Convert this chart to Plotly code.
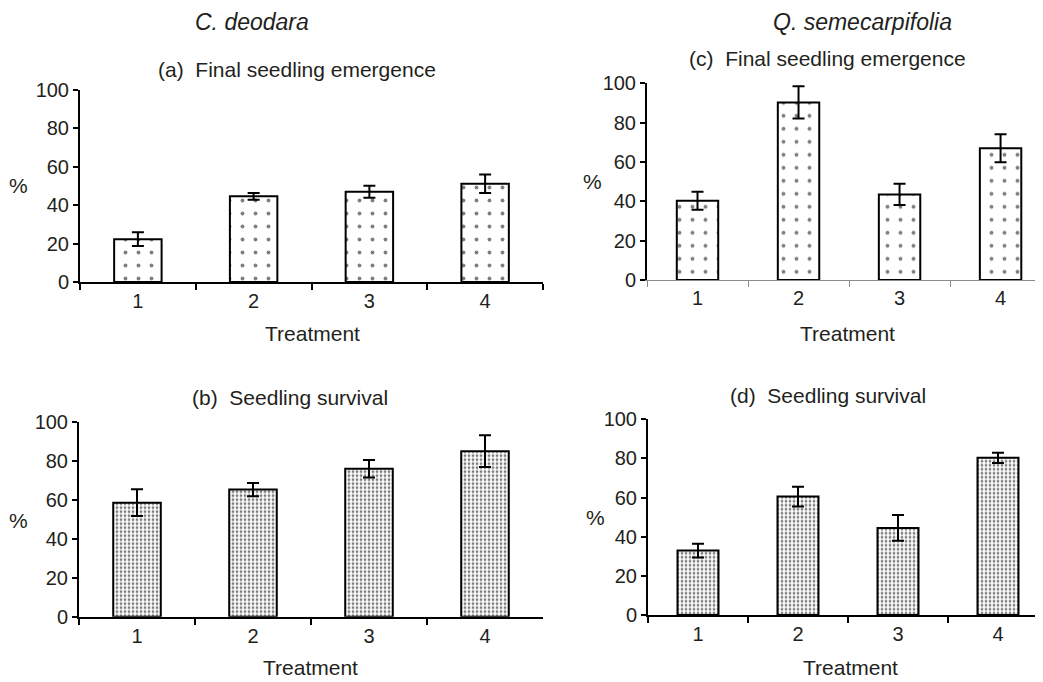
import plotly.graph_objects as go

treatments = ["1", "2", "3", "4"]

# C. deodara
cd_emergence = [22.3, 44.6, 47.0, 51.2]
cd_emergence_err = [3.6, 1.7, 3.1, 4.8]
cd_survival = [58.5, 65.2, 75.9, 84.9]
cd_survival_err = [6.9, 3.4, 4.5, 8.1]

# Q. semecarpifolia
qs_emergence = [40.3, 90.3, 43.5, 67.0]
qs_emergence_err = [4.6, 8.2, 5.4, 7.1]
qs_survival = [32.9, 60.5, 44.5, 80.3]
qs_survival_err = [3.5, 5.0, 6.6, 2.6]

y_ticks = [0, 20, 40, 60, 80, 100]

OFF = 8  # page body margin
W, H = 1043 - OFF, 682 - OFF
FONT = "Liberation Sans, Arial, sans-serif"
TXT = "#231f20"


def px_x(v):
    return (v - OFF) / W


def px_y(v):
    return 1 - (v - OFF) / H


sparse = dict(shape=".", size=13, solidity=0.07, fgcolor="black", bgcolor="white", fillmode="overlay")
dense = dict(shape=".", size=4, solidity=0.38, fgcolor="black", bgcolor="white", fillmode="overlay")

panels = [
    # values, errors, pattern, xdom(px), ytop, ybottom, xrange end, thin x axis
    (cd_emergence, cd_emergence_err, sparse, (80, 543), 90, 282, 3.5, False),
    (cd_survival, cd_survival_err, dense, (79, 543), 421.7, 616.7, 3.5, False),
    (qs_emergence, qs_emergence_err, sparse, (647, 1043), 83.3, 280, 3.42, True),
    (qs_survival, qs_survival_err, dense, (648, 1043), 419.3, 615, 3.45, False),
]

fig = go.Figure()
layout = {}
for i, (vals, errs, pat, (x0, x1), ytop, ybot, xend, thin) in enumerate(panels):
    n = "" if i == 0 else str(i + 1)
    fig.add_trace(go.Bar(
        x=treatments, y=vals,
        xaxis="x" + n, yaxis="y" + n,
        width=0.41,
        marker=dict(color="white", line=dict(color="black", width=2), pattern=pat),
        error_y=dict(type="data", array=errs, visible=True, color="black", thickness=2, width=6),
        showlegend=False,
    ))
    layout["xaxis" + n] = dict(
        domain=[px_x(x0), min(1.0, px_x(x1))], anchor="y" + n, type="category",
        range=[-0.5, xend], showline=True,
        linecolor="#8a8a8a" if thin else "black", linewidth=1 if thin else 2,
        ticks="outside", tickson="boundaries", ticklen=6,
        tickcolor="#8a8a8a" if thin else "black", tickwidth=1 if thin else 2,
        showgrid=False, zeroline=False, automargin=False,
        tickfont=dict(family=FONT, size=20, color=TXT),
        fixedrange=True,
    )
    layout["yaxis" + n] = dict(
        domain=[px_y(ybot), px_y(ytop)], anchor="x" + n,
        range=[0, 100], tickvals=y_ticks, showline=True, linecolor="black", linewidth=2,
        ticks="outside", ticklen=5, tickcolor="black", tickwidth=2,
        showgrid=False, zeroline=False, automargin=False,
        tickfont=dict(family=FONT, size=20, color=TXT),
        fixedrange=True,
    )

ann = []


def text(x, y, s, size=21, italic=False):
    ann.append(dict(
        x=px_x(x), y=px_y(y), xref="paper", yref="paper", showarrow=False,
        text=f"<i>{s}</i>" if italic else s, xanchor="center", yanchor="middle",
        font=dict(family=FONT, size=size, color=TXT),
    ))


text(252, 22, "C. deodara", 23, True)
text(862, 22, "Q. semecarpifolia", 23, True)
text(297, 70, "(a)  Final seedling emergence")
text(827, 58, "(c)  Final seedling emergence")
text(290, 397, "(b)  Seedling survival")
text(828, 395, "(d)  Seedling survival")
for (x, y) in [(18, 185), (592, 182), (18, 520), (595, 517)]:
    text(x, y, "%")
for (x, y) in [(312, 333), (847, 333), (310, 667), (850, 667)]:
    text(x, y, "Treatment")

fig.update_layout(
    width=W, height=H,
    margin=dict(l=0, r=0, t=0, b=0, pad=0, autoexpand=False),
    paper_bgcolor="white", plot_bgcolor="white",
    annotations=ann,
    **layout,
)

fig.write_html("out.html", config={"displayModeBar": False})
